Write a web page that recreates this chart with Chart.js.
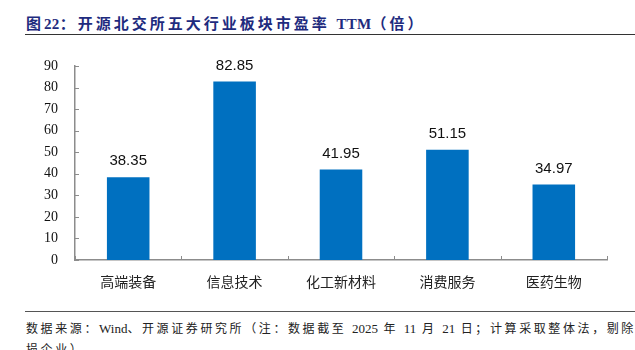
<!DOCTYPE html>
<html>
<head>
<meta charset="utf-8">
<script src="https://cdn.jsdelivr.net/npm/chart.js@4"></script>
<style>
body{
    margin:0;
    width:635px;
    height:350px;
    overflow:hidden;
    background:#fff;
    position:relative;
}
#titulo{
    position:absolute;
    left:26px;
    top:12px;
    font-family:"Liberation Serif","Noto Sans CJK SC",serif;
    font-weight:bold;
    font-size:15px;
    letter-spacing:3px;
    color:#1e2b7e;
    white-space:nowrap;
}
.lat{
    letter-spacing:0.3px;
}
#lineaTitulo{
    position:absolute;
    left:25px;
    right:0;
    top:34px;
    border-top:1.5px solid #333;
}
#lienzo{
    position:absolute;
    left:0;
    top:40px;
    width:635px;
    height:270px;
}
#lineaPie{
    position:absolute;
    left:25px;
    right:0;
    top:311px;
    border-top:1.5px solid #555;
}
#pie{
    position:absolute;
    left:26px;
    top:318px;
    font-family:"Liberation Serif","Noto Sans CJK SC",serif;
    font-size:12px;
    letter-spacing:2.6px;
    line-height:21px;
    color:#222;
    white-space:nowrap;
}
#pie .lat{
    letter-spacing:0;
    font-size:13px;
}
</style>
</head>
<body>

<div id="titulo">图<span class="lat">22</span>：开源北交所五大行业板块市盈率 <span class="lat">TTM</span>（倍）</div>
<div id="lineaTitulo"></div>

<div id="lienzo">
    <canvas id="grafico"></canvas>
</div>

<div id="lineaPie"></div>
<div id="pie">数据来源：<span class="lat">Wind</span>、开源证券研究所（注：数据截至 <span class="lat">2025</span> 年 <span class="lat">11</span> 月 <span class="lat">21</span> 日；计算采取整体法，剔除亏<br>损企业）</div>

<script>

const sectores = [
    "高端装备",
    "信息技术",
    "化工新材料",
    "消费服务",
    "医药生物"
];

const peTTM = [
    38.35,
    82.85,
    41.95,
    51.15,
    34.97
];

const ticksY = [
    0, 10, 20, 30, 40, 50, 60, 70, 80, 90
];

const colorEje = "#8c8c8c";

// etiquetas de valor encima de cada barra
const etiquetasValor = {

    id:"etiquetasValor",

    afterDatasetsDraw(chart){

        const ctx = chart.ctx;

        const meta = chart.getDatasetMeta(0);

        ctx.save();

        ctx.font = "15px 'Liberation Sans', sans-serif";
        ctx.fillStyle = "#111";
        ctx.textAlign = "center";
        ctx.textBaseline = "middle";

        meta.data.forEach((barra, i) => {

            ctx.fillText(
                peTTM[i].toFixed(2),
                barra.x,
                barra.y - 16
            );

        });

        ctx.restore();

    }

};

// marcas de eje hacia dentro (estilo excel)
const marcasInternas = {

    id:"marcasInternas",

    afterDraw(chart){

        const ctx = chart.ctx;

        const x = chart.scales.x;
        const y = chart.scales.y;

        ctx.save();

        ctx.strokeStyle = colorEje;
        ctx.lineWidth = 1;

        ticksY.forEach(v => {

            const py = Math.round(y.getPixelForValue(v)) + 0.5;

            ctx.beginPath();
            ctx.moveTo(x.left, py);
            ctx.lineTo(x.left + 4, py);
            ctx.stroke();

        });

        for(let i = 0; i <= sectores.length; i++){

            const px = Math.round(
                x.getPixelForValue(i - 0.5)
            ) + 0.5;

            ctx.beginPath();
            ctx.moveTo(px, y.bottom);
            ctx.lineTo(px, y.bottom - 4);
            ctx.stroke();

        }

        ctx.restore();

    }

};

new Chart(

    document.getElementById("grafico"),

    {

        type:"bar",

        data:{

            labels:sectores,

            datasets:[{

                label:"市盈率TTM",

                data:peTTM,

                backgroundColor:"#0070c0",

                barPercentage:0.4,

                categoryPercentage:1

            }]

        },

        options:{

            responsive:true,

            maintainAspectRatio:false,

            animation:false,

            layout:{
                padding:{
                    top:26,
                    right:28,
                    left:0,
                    bottom:0
                }
            },

            plugins:{
                legend:{display:false},
                tooltip:{enabled:false}
            },

            scales:{

                x:{

                    grid:{
                        display:false,
                        drawTicks:false
                    },

                    border:{
                        display:true,
                        color:colorEje,
                        width:1.5
                    },

                    ticks:{
                        padding:13,
                        color:"#222",
                        font:{
                            family:"'Noto Sans CJK SC', sans-serif",
                            size:14
                        }
                    },

                    afterFit(escala){
                        escala.height = 50;
                    }

                },

                y:{

                    min:0,

                    max:90,

                    grid:{
                        display:false,
                        drawTicks:false
                    },

                    border:{
                        display:true,
                        color:colorEje,
                        width:1.5
                    },

                    ticks:{
                        stepSize:10,
                        padding:17,
                        color:"#111",
                        font:{
                            family:"'Liberation Serif', serif",
                            size:14
                        }
                    },

                    afterFit(escala){
                        escala.width = 75;
                    }

                }

            }

        },

        plugins:[etiquetasValor, marcasInternas]

    }

);

</script>
</body>
</html>
